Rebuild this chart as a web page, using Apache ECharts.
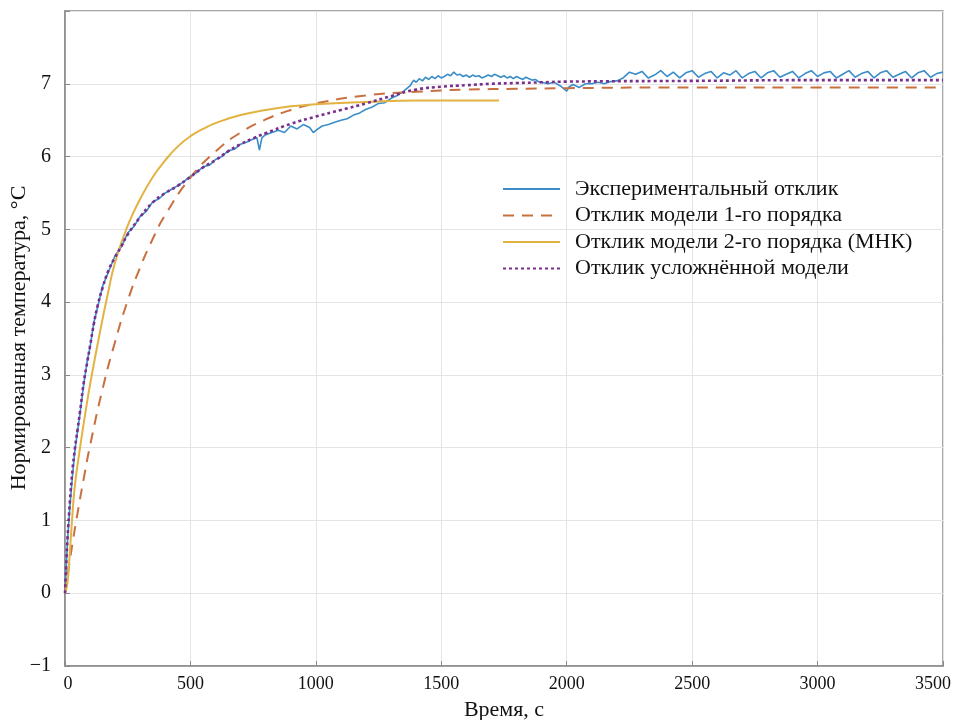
<!DOCTYPE html>
<html>
<head>
<meta charset="utf-8">
<script src="https://cdn.jsdelivr.net/npm/echarts@6/dist/echarts.min.js"></script>
<style>html,body{margin:0;padding:0;background:#fff;}#c{width:957px;height:720px;}</style>
</head>
<body>
<div id="c"></div>
<script>
// ---- Data ----
const seriesNames = [
  'Экспериментальный отклик',
  'Отклик модели 1-го порядка',
  'Отклик модели 2-го порядка (МНК)',
  'Отклик усложнённой модели'
];
const xTicks = [0, 500, 1000, 1500, 2000, 2500, 3000, 3500];
const yTicks = [-1, 0, 1, 2, 3, 4, 5, 6, 7];
const xAxisTitle = 'Время, с';
const yAxisTitle = 'Нормированная температура, °С';

// experimental response [time, temperature]
const expData = [
  [0,0],[10,0.72],[20,1.22],[30,1.62],[40,1.98],[50,2.22],[60,2.47],[75,2.88],[90,3.22],[100,3.38],
  [115,3.72],[130,3.93],[150,4.22],[175,4.43],[200,4.64],[225,4.76],[250,4.95],[275,5.04],[300,5.18],
  [325,5.25],[350,5.38],[375,5.42],[400,5.5],[425,5.55],[450,5.6],[475,5.66],[500,5.73],[525,5.78],
  [550,5.86],[575,5.88],[600,5.96],[625,6.0],[650,6.08],[675,6.1],[700,6.17],[725,6.2],[750,6.24],
  [765,6.26],[775,6.09],[785,6.26],[800,6.3],[825,6.33],[850,6.36],[875,6.33],[900,6.42],[925,6.38],
  [950,6.44],[975,6.4],[990,6.33],[1000,6.36],[1025,6.42],[1050,6.44],[1075,6.47],[1100,6.5],
  [1125,6.52],[1150,6.57],[1175,6.6],[1200,6.65],[1225,6.68],[1250,6.73],[1275,6.74],[1300,6.8],
  [1325,6.84],[1350,6.9],[1375,6.97],[1390,7.05],[1400,7.02],[1412,7.07],[1425,7.04],[1437,7.09],
  [1450,7.06],[1462,7.1],[1475,7.07],[1487,7.11],[1500,7.08],[1512,7.1],[1525,7.13],[1537,7.11],
  [1550,7.16],[1562,7.12],[1575,7.13],[1587,7.1],[1600,7.12],[1612,7.09],[1625,7.12],[1637,7.1],
  [1650,7.11],[1662,7.08],[1675,7.1],[1687,7.12],[1700,7.1],[1712,7.13],[1725,7.11],[1737,7.09],
  [1750,7.11],[1762,7.08],[1775,7.1],[1787,7.07],[1800,7.1],[1812,7.08],[1825,7.06],[1837,7.09],
  [1850,7.07],[1862,7.05],[1875,7.06],[1887,7.03],[1900,7.02],[1925,7.0],[1950,7.02],[1975,6.97],
  [2000,6.9],[2010,6.96],[2025,6.99],[2050,6.95],[2075,7.0],[2100,7.0],[2125,7.02],[2150,7.0],
  [2175,7.03],[2200,7.04],[2225,7.08],[2250,7.16],[2275,7.13],[2300,7.17],[2325,7.08],[2350,7.12],
  [2375,7.18],[2400,7.1],[2425,7.16],[2450,7.08],[2475,7.15],[2500,7.18],[2525,7.09],[2550,7.14],
  [2575,7.17],[2600,7.08],[2625,7.15],[2650,7.12],[2675,7.18],[2700,7.08],[2725,7.14],[2750,7.17],
  [2775,7.08],[2800,7.15],[2825,7.18],[2850,7.09],[2875,7.13],[2900,7.17],[2925,7.08],[2950,7.14],
  [2975,7.18],[3000,7.1],[3025,7.15],[3050,7.17],[3075,7.08],[3100,7.13],[3125,7.18],[3150,7.09],
  [3175,7.14],[3200,7.17],[3225,7.08],[3250,7.15],[3275,7.18],[3300,7.09],[3325,7.13],[3350,7.17],
  [3375,7.08],[3400,7.15],[3425,7.18],[3450,7.09],[3475,7.14],[3500,7.16]
];

// first-order model response
const model1Data = [
  [0,0],[25,0.58],[50,1.10],[75,1.58],[100,2.03],[150,2.81],[200,3.46],[250,4.02],[300,4.48],
  [350,4.87],[400,5.20],[500,5.71],[600,6.07],[700,6.33],[800,6.51],[900,6.64],[1000,6.73],
  [1200,6.84],[1400,6.89],[1600,6.92],[1800,6.93],[2000,6.94],[2500,6.95],[3000,6.95],[3500,6.95]
];

// second-order model (least squares) response
const model2Data = [
  [0,0],[10,0.15],[20,0.6],[30,1.1],[40,1.5],[60,2.0],[80,2.45],[100,2.87],[140,3.6],[170,4.1],
  [200,4.55],[250,5.05],[300,5.42],[350,5.72],[400,5.95],[450,6.14],[500,6.28],[550,6.38],
  [600,6.46],[700,6.57],[800,6.64],[900,6.69],[1000,6.72],[1200,6.75],[1400,6.77],[1730,6.77]
];

// complex model response
const model3Data = [
  [0,0],[5,0.4],[10,0.75],[20,1.28],[30,1.7],[40,2.0],[50,2.25],[60,2.5],[75,2.9],[90,3.2],
  [100,3.4],[115,3.7],[130,3.95],[150,4.2],[175,4.45],[200,4.62],[225,4.77],[250,4.93],[300,5.17],
  [350,5.37],[400,5.5],[450,5.6],[500,5.72],[550,5.85],[600,5.95],[650,6.07],[700,6.17],[750,6.25],
  [800,6.32],[900,6.45],[1000,6.55],[1100,6.64],[1200,6.73],[1300,6.83],[1400,6.92],[1500,6.96],
  [1600,6.98],[1700,7.0],[1800,7.01],[1900,7.02],[2000,7.03],[2500,7.04],[3000,7.05],[3500,7.05]
];

const colors = ['#3a8dc8', '#c8703f', '#e2b341', '#7a2f8e'];
const serif = '"Liberation Serif", "DejaVu Serif", serif';

const chart = echarts.init(document.getElementById('c'), null, {renderer: 'canvas'});
chart.setOption({
  animation: false,
  backgroundColor: '#ffffff',
  grid: {left: 65, right: 14, top: 11, bottom: 54, containLabel: false, outerBoundsMode: 'none',
    show: true, borderColor: '#8a8a8a', borderWidth: 1.5, backgroundColor: 'transparent'},
  graphic: [{
    type: 'text', x: 19, y: 338, rotation: Math.PI / 2, silent: true,
    style: {text: yAxisTitle, fontFamily: serif, fontSize: 22, fill: '#111',
      align: 'center', verticalAlign: 'middle'}
  }],
  legend: {
    orient: 'vertical', left: 497, top: 173,
    itemWidth: 57, itemHeight: 14, itemGap: 4.5,
    data: seriesNames,
    itemStyle: {opacity: 0},
    textStyle: {fontFamily: serif, fontSize: 22, color: '#111', padding: [0, 0, 0, 10]}
  },
  xAxis: {
    type: 'value', min: 0, max: 3500, interval: 500,
    name: xAxisTitle, nameLocation: 'middle', nameGap: 33,
    nameTextStyle: {fontFamily: serif, fontSize: 22, color: '#111'},
    axisLine: {show: true, onZero: false, lineStyle: {color: '#8a8a8a', width: 1.5}},
    axisTick: {show: true, inside: true, length: 5, lineStyle: {color: '#8a8a8a'}},
    axisLabel: {fontFamily: serif, fontSize: 18, color: '#111', margin: 9,
      formatter: v => !xTicks.includes(v) ? '' : (v === 3500 ? '{last|3500}' : (v === 0 ? '{first|0}' : String(v))),
      rich: {
        last: {fontFamily: serif, fontSize: 18, color: '#111', padding: [0, 20, 0, 0]},
        first: {fontFamily: serif, fontSize: 18, color: '#111', padding: [0, 0, 0, 6]}
      }},
    splitLine: {show: true, lineStyle: {color: '#e4e4e4', width: 1}}
  },
  yAxis: {
    type: 'value', min: -1, max: 8, interval: 1,
    axisLine: {show: true, onZero: false, lineStyle: {color: '#8a8a8a', width: 1.5}},
    axisTick: {show: true, inside: true, length: 5, lineStyle: {color: '#8a8a8a'}},
    axisLabel: {fontFamily: serif, fontSize: 20, color: '#111', margin: 14,
      formatter: v => yTicks.includes(v) ? (v < 0 ? '\u2212' + Math.abs(v) : String(v)) : ''},
    splitLine: {show: true, lineStyle: {color: '#e4e4e4', width: 1}}
  },
  series: [
    {name: seriesNames[0], type: 'line', data: expData, showSymbol: false, symbol: 'none',
      lineStyle: {color: colors[0], width: 1.6}, itemStyle: {color: colors[0]}, z: 2},
    {name: seriesNames[1], type: 'line', data: model1Data, smooth: true, showSymbol: false, symbol: 'none',
      lineStyle: {color: colors[1], width: 2, type: [11, 8]}, itemStyle: {color: colors[1]}, z: 3},
    {name: seriesNames[2], type: 'line', data: model2Data, smooth: true, showSymbol: false, symbol: 'none',
      lineStyle: {color: colors[2], width: 2}, itemStyle: {color: colors[2]}, z: 4},
    {name: seriesNames[3], type: 'line', data: model3Data, smooth: true, showSymbol: false, symbol: 'none',
      lineStyle: {color: colors[3], width: 2.6, type: [3, 3]}, itemStyle: {color: colors[3]}, z: 5}
  ]
});
</script>
</body>
</html>
